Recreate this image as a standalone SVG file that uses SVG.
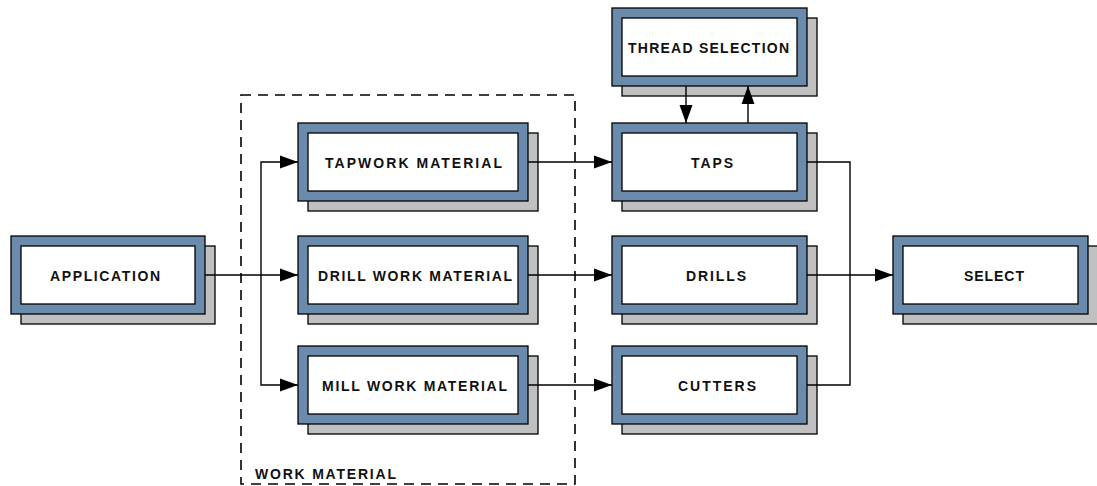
<svg xmlns="http://www.w3.org/2000/svg" width="1097" height="486" viewBox="0 0 1097 486">
<defs>
<style>
.sh{fill:#c0c0c0;stroke:#000;stroke-width:1.3}
.bl{fill:#6b8bad;stroke:#000;stroke-width:1.3}
.in{fill:#fff;stroke:#000;stroke-width:1.3}
.t{font-family:"Liberation Sans",Arial,sans-serif;font-size:14px;font-weight:bold;fill:#111}
.c{fill:none;stroke:#000;stroke-width:1.4}
.d{fill:none;stroke:#000;stroke-width:1.6;stroke-dasharray:10 7}
</style>
<marker id="ah" markerUnits="userSpaceOnUse" markerWidth="19" markerHeight="14" refX="18" refY="7" orient="auto">
<path d="M0,0.5 L18,7 L0,13.5 Z" fill="#000"/>
</marker>
</defs>
<rect width="1097" height="486" fill="#fff"/>
<g id="work-material">
<rect class="d" x="241" y="95" width="334" height="389"/>
<text class="t" x="255" y="479" textLength="141" lengthAdjust="spacing">WORK MATERIAL</text>
</g>
<g id="application">
<rect class="sh" x="21" y="246" width="194" height="78"/>
<rect class="bl" x="11" y="236" width="194" height="78"/>
<rect class="in" x="21" y="246" width="174" height="58"/>
<text class="t" x="50" y="280.5" textLength="110" lengthAdjust="spacing">APPLICATION</text>
</g>
<g id="tapwork">
<rect class="sh" x="308" y="133" width="230" height="78"/>
<rect class="bl" x="298" y="123" width="230" height="78"/>
<rect class="in" x="308" y="133" width="210" height="58"/>
<text class="t" x="325" y="167.5" textLength="177" lengthAdjust="spacing">TAPWORK MATERIAL</text>
</g>
<g id="drillwork">
<rect class="sh" x="308" y="246" width="230" height="78"/>
<rect class="bl" x="298" y="236" width="230" height="78"/>
<rect class="in" x="308" y="246" width="210" height="58"/>
<text class="t" x="318" y="280.5" textLength="194" lengthAdjust="spacing">DRILL WORK MATERIAL</text>
</g>
<g id="millwork">
<rect class="sh" x="308" y="356" width="230" height="78"/>
<rect class="bl" x="298" y="346" width="230" height="78"/>
<rect class="in" x="308" y="356" width="210" height="58"/>
<text class="t" x="322" y="390.5" textLength="185" lengthAdjust="spacing">MILL WORK MATERIAL</text>
</g>
<g id="thread-selection">
<rect class="sh" x="622" y="18" width="195" height="78"/>
<rect class="bl" x="612" y="8" width="195" height="78"/>
<rect class="in" x="622" y="18" width="175" height="58"/>
<text class="t" x="628" y="53" textLength="161" lengthAdjust="spacing">THREAD SELECTION</text>
</g>
<g id="taps">
<rect class="sh" x="622" y="133" width="195" height="78"/>
<rect class="bl" x="612" y="123" width="195" height="78"/>
<rect class="in" x="622" y="133" width="175" height="58"/>
<text class="t" x="691" y="167.5" textLength="42" lengthAdjust="spacing">TAPS</text>
</g>
<g id="drills">
<rect class="sh" x="622" y="246" width="195" height="78"/>
<rect class="bl" x="612" y="236" width="195" height="78"/>
<rect class="in" x="622" y="246" width="175" height="58"/>
<text class="t" x="686" y="280.5" textLength="60" lengthAdjust="spacing">DRILLS</text>
</g>
<g id="cutters">
<rect class="sh" x="622" y="356" width="195" height="78"/>
<rect class="bl" x="612" y="346" width="195" height="78"/>
<rect class="in" x="622" y="356" width="175" height="58"/>
<text class="t" x="678" y="390.5" textLength="78" lengthAdjust="spacing">CUTTERS</text>
</g>
<g id="select">
<rect class="sh" x="903" y="246" width="195" height="78"/>
<rect class="bl" x="893" y="236" width="195" height="78"/>
<rect class="in" x="903" y="246" width="175" height="58"/>
<text class="t" x="964" y="281" textLength="60" lengthAdjust="spacing">SELECT</text>
</g>
<g id="connectors">
<path class="c" d="M205,275 H298" marker-end="url(#ah)"/>
<path class="c" d="M261,275 V162 H298" marker-end="url(#ah)"/>
<path class="c" d="M261,275 V385 H298" marker-end="url(#ah)"/>
<path class="c" d="M528,162 H612" marker-end="url(#ah)"/>
<path class="c" d="M528,275 H612" marker-end="url(#ah)"/>
<path class="c" d="M528,385 H612" marker-end="url(#ah)"/>
<path class="c" d="M686,86 V123" marker-end="url(#ah)"/>
<path class="c" d="M748,123 V86" marker-end="url(#ah)"/>
<path class="c" d="M807,162 H850 V385 H807"/>
<path class="c" d="M807,275 H893" marker-end="url(#ah)"/>
</g>
</svg>
